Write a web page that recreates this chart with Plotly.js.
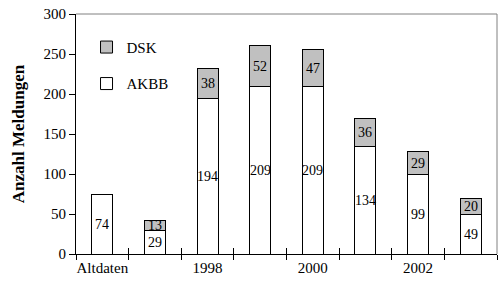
<!DOCTYPE html>
<html><head><meta charset="utf-8">
<script src="https://cdn.plot.ly/plotly-3.0.1.min.js"></script>
<style>body{margin:0;background:#fff}#c{width:499px;height:289px}</style>
</head><body><div id="c"></div>
<script>
const categories = ['Altdaten','1997','1998','1999','2000','2001','2002','2003'];
const tickLabels = ['Altdaten','','1998','','2000','','2002',''];
const akbb = [74, 29, 194, 209, 209, 134, 99, 49];
const dsk = [null, 13, 38, 52, 47, 36, 29, 20];

const font = '"Liberation Serif", "Times New Roman", serif';
const traces = [
  {type:'bar', name:'AKBB', x:categories, y:akbb, legendgroup:'a', legendrank:2,
   marker:{color:'#ffffff', line:{color:'#000', width:1}}, hoverinfo:'none'},
  {type:'bar', name:'DSK', x:categories, y:dsk, legendgroup:'b', legendrank:1,
   marker:{color:'#c0c0c0', line:{color:'#000', width:1}}, hoverinfo:'none'},
  {type:'scatter', mode:'none', x:[], y:[], xaxis:'x2', yaxis:'y', showlegend:false, hoverinfo:'none'}
];
const annFont = {family:font, size:14, color:'#000'};
const annotations = [];
categories.forEach((c, i) => {
  annotations.push({x:i, y:akbb[i]/2, xref:'x', yref:'y', text:String(akbb[i]), showarrow:false, font:annFont});
  if (dsk[i] != null) {
    annotations.push({x:i, y:akbb[i] + dsk[i]/2, xref:'x', yref:'y', text:String(dsk[i]), showarrow:false, font:annFont});
  }
});
const boundaries = categories.map((_, i) => i - 0.5).concat([categories.length - 0.5]);
const layout = {
  width:499, height:289,
  margin:{l:76, r:2, t:14, b:35},
  paper_bgcolor:'#fff', plot_bgcolor:'#fff',
  barmode:'stack', bargap:0.6,
  font:{family:font, size:15, color:'#000'},
  showlegend:true,
  legend:{x:0.025, y:0.93, xanchor:'left', yanchor:'top', bgcolor:'rgba(0,0,0,0)',
          traceorder:'grouped', tracegroupgap:14, itemwidth:30,
          font:{family:font, size:15, color:'#000'}},
  xaxis:{type:'category', range:[-0.5,7.5], tickmode:'array', tickvals:categories, ticktext:tickLabels,
         tickson:'boundaries', ticks:'outside', ticklen:5, tickcolor:'#000', tickwidth:1, tickangle:0,
         showline:true, linecolor:'#000', linewidth:1, showgrid:false, zeroline:false,
         tickfont:{family:font, size:15, color:'#000'}, fixedrange:true},
  xaxis2:{type:'linear', range:[-0.5,7.5], overlaying:'x', anchor:'y', side:'bottom',
          tickmode:'array', tickvals:boundaries, ticks:'inside', ticklen:6, tickcolor:'#000', tickwidth:1,
          showticklabels:false, showline:false, showgrid:false, zeroline:false, fixedrange:true},
  yaxis:{range:[0,300], tick0:0, dtick:50, ticks:'outside', ticklen:6, tickcolor:'#000',
         showline:true, linecolor:'#000', linewidth:1, showgrid:false, zeroline:false,
         tickfont:{family:font, size:15, color:'#000'},
         title:{text:'<b>Anzahl Meldungen</b>', font:{family:font, size:17, color:'#000'}, standoff:14},
         fixedrange:true},
  annotations: annotations,
  shapes:[
    {type:'line', xref:'paper', yref:'paper', x0:0, x1:1, y0:1, y1:1, line:{color:'#808080', width:1}},
    {type:'line', xref:'paper', yref:'paper', x0:1, x1:1, y0:0, y1:1, line:{color:'#808080', width:1}}
  ]
};
Plotly.newPlot('c', traces, layout, {staticPlot:true, displayModeBar:false});
</script>
</body></html>
